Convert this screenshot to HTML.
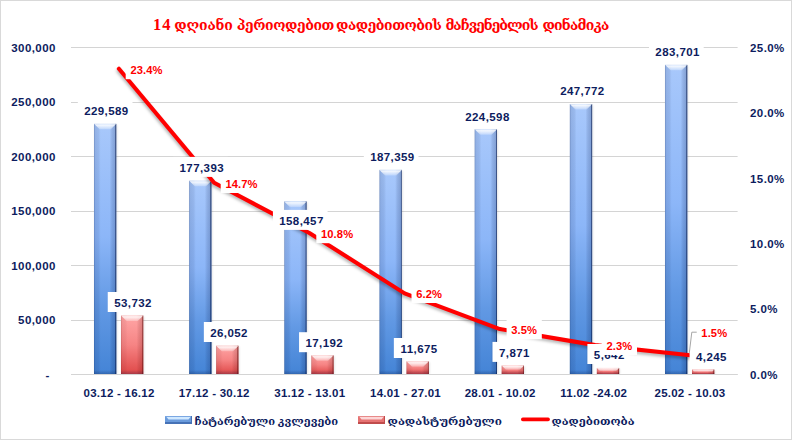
<!DOCTYPE html>
<html lang="ka"><head><meta charset="utf-8"><title>14 დღიანი პერიოდებით დადებითობის მაჩვენებლის დინამიკა</title>
<style>
html,body{margin:0;padding:0;background:#fff;}
body{width:792px;height:440px;overflow:hidden;}
svg{display:block;}
.n{font-family:"Liberation Sans","DejaVu Sans",sans-serif;font-weight:bold;font-size:11.5px;letter-spacing:0.42px;fill:#0d1c5e;}
.c{font-family:"Liberation Sans","DejaVu Sans",sans-serif;font-weight:bold;font-size:11.5px;letter-spacing:0.25px;fill:#0d1c5e;}
.p{font-family:"Liberation Sans","DejaVu Sans",sans-serif;font-weight:bold;font-size:11.2px;letter-spacing:0.1px;fill:#ff0000;}
.t{font-family:"Liberation Serif","DejaVu Serif",serif;font-weight:bold;font-size:14px;fill:#ff0000;}
.t .d{font-size:16.5px;letter-spacing:0.8px;}
.l{font-family:"Liberation Serif","DejaVu Serif",serif;font-weight:bold;font-size:11.4px;fill:#0d1c5e;}
</style></head><body>
<svg width="792" height="440" viewBox="0 0 792 440">
<defs>
<linearGradient id="gb" x1="0" y1="0" x2="0" y2="1"><stop offset="0" stop-color="#a8c8fb"/><stop offset="0.45" stop-color="#8cb6f8"/><stop offset="0.73" stop-color="#6299e4"/><stop offset="1" stop-color="#4484d6"/></linearGradient>
<linearGradient id="gr" x1="0" y1="0" x2="0" y2="1"><stop offset="0" stop-color="#ffa6a6"/><stop offset="0.5" stop-color="#f68484"/><stop offset="1" stop-color="#df4848"/></linearGradient>
<linearGradient id="ge" x1="0" y1="0" x2="1" y2="0"><stop offset="0" stop-color="#001040" stop-opacity="0.32"/><stop offset="0.05" stop-color="#001040" stop-opacity="0.12"/><stop offset="0.2" stop-color="#001040" stop-opacity="0.08"/><stop offset="0.3" stop-color="#001040" stop-opacity="0"/><stop offset="0.7" stop-color="#001040" stop-opacity="0"/><stop offset="0.8" stop-color="#001040" stop-opacity="0.11"/><stop offset="0.94" stop-color="#001040" stop-opacity="0.2"/><stop offset="0.955" stop-color="#001040" stop-opacity="0.55"/><stop offset="1" stop-color="#001040" stop-opacity="0.7"/></linearGradient>
<linearGradient id="ger" x1="0" y1="0" x2="1" y2="0"><stop offset="0" stop-color="#500000" stop-opacity="0.26"/><stop offset="0.05" stop-color="#500000" stop-opacity="0.08"/><stop offset="0.2" stop-color="#500000" stop-opacity="0.05"/><stop offset="0.3" stop-color="#500000" stop-opacity="0"/><stop offset="0.7" stop-color="#500000" stop-opacity="0"/><stop offset="0.8" stop-color="#500000" stop-opacity="0.1"/><stop offset="0.94" stop-color="#500000" stop-opacity="0.18"/><stop offset="0.955" stop-color="#500000" stop-opacity="0.5"/><stop offset="1" stop-color="#500000" stop-opacity="0.62"/></linearGradient>
<linearGradient id="gt" x1="0" y1="0" x2="0" y2="1"><stop offset="0" stop-color="#fff" stop-opacity="0.55"/><stop offset="0.25" stop-color="#fff" stop-opacity="0.85"/><stop offset="1" stop-color="#fff" stop-opacity="0.25"/></linearGradient>
<linearGradient id="gbt" x1="0" y1="0" x2="0" y2="1"><stop offset="0" stop-color="#001040" stop-opacity="0"/><stop offset="1" stop-color="#001040" stop-opacity="0.25"/></linearGradient>
<filter id="ls" x="-5%" y="-5%" width="110%" height="115%"><feGaussianBlur stdDeviation="1.6"/></filter>
<filter id="bs" x="-20%" y="-5%" width="150%" height="110%"><feGaussianBlur stdDeviation="1"/></filter>
</defs>
<rect x="0" y="0" width="792" height="440" fill="#fff"/>
<rect x="0.5" y="0.5" width="791" height="439" fill="none" stroke="#d9d9d9" stroke-width="1"/>
<line x1="71.0" y1="47.50" x2="737.6" y2="47.50" stroke="#d4d4d4" stroke-width="1"/>
<line x1="71.0" y1="102.50" x2="737.6" y2="102.50" stroke="#d4d4d4" stroke-width="1"/>
<line x1="71.0" y1="156.50" x2="737.6" y2="156.50" stroke="#d4d4d4" stroke-width="1"/>
<line x1="71.0" y1="211.50" x2="737.6" y2="211.50" stroke="#d4d4d4" stroke-width="1"/>
<line x1="71.0" y1="265.50" x2="737.6" y2="265.50" stroke="#d4d4d4" stroke-width="1"/>
<line x1="71.0" y1="320.50" x2="737.6" y2="320.50" stroke="#d4d4d4" stroke-width="1"/>
<line x1="71.0" y1="374.50" x2="737.6" y2="374.50" stroke="#d4d4d4" stroke-width="1"/>
<rect x="94.80" y="124.85" width="22.30" height="249.15" fill="#000" opacity="0.12" filter="url(#bs)"/><rect x="94.00" y="123.85" width="22.30" height="250.15" fill="url(#gb)"/><rect x="94.00" y="123.85" width="22.30" height="250.15" fill="url(#ge)"/><polygon points="94.00,123.85 116.30,123.85 110.80,129.35 99.50,129.35" fill="url(#gt)"/><rect x="94.00" y="370.00" width="22.30" height="4.00" fill="url(#gbt)"/>
<rect x="121.80" y="316.53" width="22.30" height="57.47" fill="#000" opacity="0.12" filter="url(#bs)"/><rect x="121.00" y="315.53" width="22.30" height="58.47" fill="url(#gr)"/><rect x="121.00" y="315.53" width="22.30" height="58.47" fill="url(#ger)"/><polygon points="121.00,315.53 143.30,315.53 137.80,321.03 126.50,321.03" fill="url(#gt)"/><rect x="121.00" y="370.00" width="22.30" height="4.00" fill="url(#gbt)"/>
<rect x="189.97" y="181.74" width="22.30" height="192.26" fill="#000" opacity="0.12" filter="url(#bs)"/><rect x="189.17" y="180.74" width="22.30" height="193.26" fill="url(#gb)"/><rect x="189.17" y="180.74" width="22.30" height="193.26" fill="url(#ge)"/><polygon points="189.17,180.74 211.47,180.74 205.97,186.24 194.67,186.24" fill="url(#gt)"/><rect x="189.17" y="370.00" width="22.30" height="4.00" fill="url(#gbt)"/>
<rect x="216.97" y="346.70" width="22.30" height="27.30" fill="#000" opacity="0.12" filter="url(#bs)"/><rect x="216.17" y="345.70" width="22.30" height="28.30" fill="url(#gr)"/><rect x="216.17" y="345.70" width="22.30" height="28.30" fill="url(#ger)"/><polygon points="216.17,345.70 238.47,345.70 232.97,351.20 221.67,351.20" fill="url(#gt)"/><rect x="216.17" y="370.00" width="22.30" height="4.00" fill="url(#gbt)"/>
<rect x="285.14" y="202.38" width="22.30" height="171.62" fill="#000" opacity="0.12" filter="url(#bs)"/><rect x="284.34" y="201.38" width="22.30" height="172.62" fill="url(#gb)"/><rect x="284.34" y="201.38" width="22.30" height="172.62" fill="url(#ge)"/><polygon points="284.34,201.38 306.64,201.38 301.14,206.88 289.84,206.88" fill="url(#gt)"/><rect x="284.34" y="370.00" width="22.30" height="4.00" fill="url(#gbt)"/>
<rect x="312.14" y="356.36" width="22.30" height="17.64" fill="#000" opacity="0.12" filter="url(#bs)"/><rect x="311.34" y="355.36" width="22.30" height="18.64" fill="url(#gr)"/><rect x="311.34" y="355.36" width="22.30" height="18.64" fill="url(#ger)"/><polygon points="311.34,355.36 333.64,355.36 328.14,360.86 316.84,360.86" fill="url(#gt)"/><rect x="311.34" y="370.00" width="22.30" height="4.00" fill="url(#gbt)"/>
<rect x="380.31" y="170.88" width="22.30" height="203.12" fill="#000" opacity="0.12" filter="url(#bs)"/><rect x="379.51" y="169.88" width="22.30" height="204.12" fill="url(#gb)"/><rect x="379.51" y="169.88" width="22.30" height="204.12" fill="url(#ge)"/><polygon points="379.51,169.88 401.81,169.88 396.31,175.38 385.01,175.38" fill="url(#gt)"/><rect x="379.51" y="370.00" width="22.30" height="4.00" fill="url(#gbt)"/>
<rect x="407.31" y="362.37" width="22.30" height="11.63" fill="#000" opacity="0.12" filter="url(#bs)"/><rect x="406.51" y="361.37" width="22.30" height="12.63" fill="url(#gr)"/><rect x="406.51" y="361.37" width="22.30" height="12.63" fill="url(#ger)"/><polygon points="406.51,361.37 428.81,361.37 423.31,366.87 412.01,366.87" fill="url(#gt)"/><rect x="406.51" y="370.00" width="22.30" height="4.00" fill="url(#gbt)"/>
<rect x="475.48" y="130.29" width="22.30" height="243.71" fill="#000" opacity="0.12" filter="url(#bs)"/><rect x="474.68" y="129.29" width="22.30" height="244.71" fill="url(#gb)"/><rect x="474.68" y="129.29" width="22.30" height="244.71" fill="url(#ge)"/><polygon points="474.68,129.29 496.98,129.29 491.48,134.79 480.18,134.79" fill="url(#gt)"/><rect x="474.68" y="370.00" width="22.30" height="4.00" fill="url(#gbt)"/>
<rect x="502.48" y="366.52" width="22.30" height="7.48" fill="#000" opacity="0.12" filter="url(#bs)"/><rect x="501.68" y="365.52" width="22.30" height="8.48" fill="url(#gr)"/><rect x="501.68" y="365.52" width="22.30" height="8.48" fill="url(#ger)"/><polygon points="501.68,365.52 523.98,365.52 519.74,369.76 505.92,369.76" fill="url(#gt)"/><rect x="501.68" y="370.61" width="22.30" height="3.39" fill="url(#gbt)"/>
<rect x="570.65" y="105.03" width="22.30" height="268.97" fill="#000" opacity="0.12" filter="url(#bs)"/><rect x="569.85" y="104.03" width="22.30" height="269.97" fill="url(#gb)"/><rect x="569.85" y="104.03" width="22.30" height="269.97" fill="url(#ge)"/><polygon points="569.85,104.03 592.15,104.03 586.65,109.53 575.35,109.53" fill="url(#gt)"/><rect x="569.85" y="370.00" width="22.30" height="4.00" fill="url(#gbt)"/>
<rect x="597.65" y="368.95" width="22.30" height="5.05" fill="#000" opacity="0.12" filter="url(#bs)"/><rect x="596.85" y="367.95" width="22.30" height="6.05" fill="url(#gr)"/><rect x="596.85" y="367.95" width="22.30" height="6.05" fill="url(#ger)"/><polygon points="596.85,367.95 619.15,367.95 616.13,370.98 599.87,370.98" fill="url(#gt)"/><rect x="596.85" y="371.58" width="22.30" height="2.42" fill="url(#gbt)"/>
<rect x="665.82" y="65.87" width="22.30" height="308.13" fill="#000" opacity="0.12" filter="url(#bs)"/><rect x="665.02" y="64.87" width="22.30" height="309.13" fill="url(#gb)"/><rect x="665.02" y="64.87" width="22.30" height="309.13" fill="url(#ge)"/><polygon points="665.02,64.87 687.32,64.87 681.82,70.37 670.52,70.37" fill="url(#gt)"/><rect x="665.02" y="370.00" width="22.30" height="4.00" fill="url(#gbt)"/>
<rect x="692.82" y="370.47" width="22.30" height="3.53" fill="#000" opacity="0.12" filter="url(#bs)"/><rect x="692.02" y="369.47" width="22.30" height="4.53" fill="url(#gr)"/><rect x="692.02" y="369.47" width="22.30" height="4.53" fill="url(#ger)"/><polygon points="692.02,369.47 714.32,369.47 712.06,371.74 694.28,371.74" fill="url(#gt)"/><rect x="692.02" y="372.19" width="22.30" height="1.81" fill="url(#gbt)"/>
<line x1="71.0" y1="374.5" x2="737.6" y2="374.5" stroke="#d4d4d4" stroke-width="1"/>
<polyline points="118.91,68.78 214.14,182.81 309.37,232.99 404.60,293.39 499.83,329.06 595.06,345.12 690.29,355.33" fill="none" stroke="#000" stroke-opacity="0.3" stroke-width="3.8" stroke-linecap="round" stroke-linejoin="round" transform="translate(-0.5,2.2)" filter="url(#ls)"/>
<polyline points="118.91,68.78 214.14,182.81 309.37,232.99 404.60,293.39 499.83,329.06 595.06,345.12 690.29,355.33" fill="none" stroke="#ff0000" stroke-width="4.1" stroke-linecap="round" stroke-linejoin="round"/>
<rect x="77.82" y="100.00" width="54.67" height="20" fill="#fff"/><text class="n" x="106.40" y="115" text-anchor="middle">229,589</text>
<rect x="173.22" y="156.90" width="54.67" height="20" fill="#fff"/><text class="n" x="201.80" y="172" text-anchor="middle">177,393</text>
<rect x="272.92" y="209.90" width="54.67" height="20" fill="#fff"/><text class="n" x="301.50" y="225" text-anchor="middle">158,457</text>
<rect x="363.82" y="146.00" width="54.67" height="20" fill="#fff"/><text class="n" x="392.40" y="161" text-anchor="middle">187,359</text>
<rect x="458.92" y="106.20" width="54.67" height="20" fill="#fff"/><text class="n" x="487.50" y="121" text-anchor="middle">224,598</text>
<rect x="553.82" y="80.00" width="54.67" height="20" fill="#fff"/><text class="n" x="582.40" y="95" text-anchor="middle">247,772</text>
<rect x="649.02" y="41.50" width="54.67" height="20" fill="#fff"/><text class="n" x="677.60" y="56" text-anchor="middle">283,701</text>
<rect x="107.75" y="292.00" width="48.00" height="20" fill="#fff"/><text class="n" x="133.00" y="307" text-anchor="middle">53,732</text>
<rect x="203.85" y="322.00" width="48.00" height="20" fill="#fff"/><text class="n" x="229.10" y="337" text-anchor="middle">26,052</text>
<rect x="299.05" y="332.20" width="48.00" height="20" fill="#fff"/><text class="n" x="324.30" y="347" text-anchor="middle">17,192</text>
<rect x="393.85" y="338.00" width="48.00" height="20" fill="#fff"/><text class="n" x="419.10" y="353" text-anchor="middle">11,675</text>
<rect x="492.49" y="341.90" width="41.32" height="20" fill="#fff"/><text class="n" x="514.40" y="357" text-anchor="middle">7,871</text>
<rect x="587.39" y="344.00" width="41.32" height="20" fill="#fff"/><text class="n" x="609.30" y="359" text-anchor="middle">5,642</text>
<rect x="689.59" y="346.00" width="41.32" height="20" fill="#fff"/><text class="n" x="711.50" y="361" text-anchor="middle">4,245</text>
<polyline points="689.3,352.9 691.8,332.2 697.6,332.2" fill="none" stroke="#a6a6a6" stroke-width="1"/>
<rect x="125.70" y="59.20" width="41.60" height="20" fill="#fff"/><text class="p" x="146.50" y="74" text-anchor="middle">23.4%</text>
<rect x="220.70" y="173.00" width="41.60" height="20" fill="#fff"/><text class="p" x="241.50" y="188" text-anchor="middle">14.7%</text>
<rect x="316.30" y="223.20" width="41.60" height="20" fill="#fff"/><text class="p" x="337.10" y="238" text-anchor="middle">10.8%</text>
<rect x="411.50" y="283.00" width="35.21" height="20" fill="#fff"/><text class="p" x="429.10" y="298" text-anchor="middle">6.2%</text>
<rect x="506.60" y="319.30" width="35.21" height="20" fill="#fff"/><text class="p" x="524.20" y="334" text-anchor="middle">3.5%</text>
<rect x="601.80" y="335.00" width="35.21" height="20" fill="#fff"/><text class="p" x="619.40" y="350" text-anchor="middle">2.3%</text>
<rect x="696.70" y="322.00" width="35.21" height="20" fill="#fff"/><text class="p" x="714.30" y="337" text-anchor="middle">1.5%</text>
<text class="n" x="55.8" y="52" text-anchor="end">300,000</text>
<text class="n" x="55.8" y="106" text-anchor="end">250,000</text>
<text class="n" x="55.8" y="161" text-anchor="end">200,000</text>
<text class="n" x="55.8" y="215" text-anchor="end">150,000</text>
<text class="n" x="55.8" y="270" text-anchor="end">100,000</text>
<text class="n" x="55.8" y="324" text-anchor="end">50,000</text>
<text class="n" x="49.8" y="379" text-anchor="end">-</text>
<text class="n" x="750" y="52">25.0%</text>
<text class="n" x="750" y="117">20.0%</text>
<text class="n" x="750" y="183">15.0%</text>
<text class="n" x="750" y="248">10.0%</text>
<text class="n" x="750" y="313">5.0%</text>
<text class="n" x="750" y="379">0.0%</text>
<text class="c" x="119.10" y="396.6" text-anchor="middle">03.12 - 16.12</text>
<text class="c" x="214.20" y="396.6" text-anchor="middle">17.12 - 30.12</text>
<text class="c" x="309.80" y="396.6" text-anchor="middle">31.12 - 13.01</text>
<text class="c" x="405.50" y="396.6" text-anchor="middle">14.01 - 27.01</text>
<text class="c" x="500.20" y="396.6" text-anchor="middle">28.01 - 10.02</text>
<text class="c" x="593.80" y="396.6" text-anchor="middle">11.02 -24.02</text>
<text class="c" x="690.00" y="396.6" text-anchor="middle">25.02 - 10.03</text>
<text class="t" y="29.8"><tspan class="d" x="153.1">14</tspan> <tspan x="174.3" textLength="58.6" lengthAdjust="spacing">დღიანი</tspan> <tspan x="236.8" textLength="97.6" lengthAdjust="spacing">პერიოდებით</tspan> <tspan x="336.1" textLength="105.8" lengthAdjust="spacing">დადებითობის</tspan> <tspan x="445.4" textLength="93.3" lengthAdjust="spacing">მაჩვენებლის</tspan> <tspan x="542.4" textLength="67.0" lengthAdjust="spacing">დინამიკა</tspan></text>
<rect x="165" y="416" width="27" height="8" fill="#6a9bdc"/><rect x="165" y="416" width="27" height="1" fill="#7ba7e2"/><polygon points="166.5,417 190.5,417 188.5,419.6 168.5,419.6" fill="#cfe8ff"/><rect x="165" y="422" width="27" height="2" fill="#4672b6"/><rect x="191" y="416" width="1" height="8" fill="#4672b6"/>
<text class="l" x="194.6" y="424.6" textLength="143.6" lengthAdjust="spacingAndGlyphs">ჩატარებული კვლევები</text>
<rect x="358" y="416" width="27" height="8" fill="#e67272"/><rect x="358" y="416" width="27" height="1" fill="#e88a8a"/><polygon points="359.5,417 383.5,417 381.5,419.6 361.5,419.6" fill="#fcd6d6"/><rect x="358" y="422" width="27" height="2" fill="#c04c4c"/><rect x="384" y="416" width="1" height="8" fill="#c04c4c"/>
<text class="l" x="387.5" y="424.6" textLength="114.4" lengthAdjust="spacingAndGlyphs">დადასტურებული</text>
<line x1="522.8" y1="419.4" x2="548.1" y2="419.4" stroke="#ff0000" stroke-width="3.6" stroke-linecap="round"/>
<text class="l" x="551.6" y="424.6" textLength="82.9" lengthAdjust="spacingAndGlyphs">დადებითობა</text>
</svg>
</body></html>
